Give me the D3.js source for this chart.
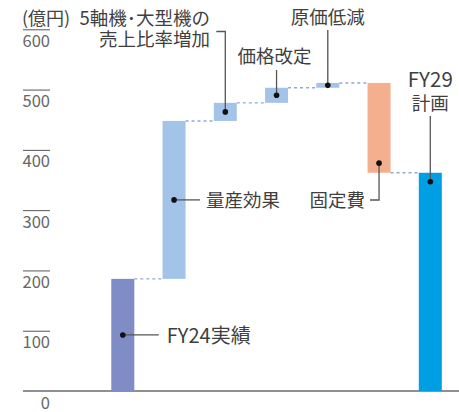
<!DOCTYPE html>
<html>
<head>
<meta charset="utf-8">
<script src="https://cdn.jsdelivr.net/npm/d3@7"></script>
<style>
  html, body { margin: 0; padding: 0; background: #fff; }
  svg { display: block; }
  text { font-family: "Noto Sans CJK JP", "Noto Sans", sans-serif; }
</style>
</head>
<body>
<svg id="chart" width="459" height="412"></svg>
<script>
// Operating profit bridge, FY24 actual to FY29 plan (億円)
const categories = ["FY24実績", "量産効果", "5軸機･大型機の売上比率増加", "価格改定", "原価低減", "固定費", "FY29計画"];
const values     = [186, 262, 30, 25, 8, -149, 362];
const kinds      = ["total", "delta", "delta", "delta", "delta", "delta", "total"];
const yTicks     = [0, 100, 200, 300, 400, 500, 600];
const unitLabel  = "(億円)";

// Build floating-bar extents from the running total
let running = 0;
const bars = categories.map((c, i) => {
  let lo, hi;
  if (kinds[i] === "total") {
    lo = 0; hi = values[i]; running = values[i];
  } else {
    const prev = running;
    running += values[i];
    lo = Math.min(prev, running); hi = Math.max(prev, running);
  }
  return { cat: c, i, lo, hi, end: running, kind: kinds[i], v: values[i] };
});

const colorOf = d => {
  if (d.kind === "total") return d.i === 0 ? "#7f8cc6" : "#009fe3";
  return d.v < 0 ? "#f4b08e" : "#a3c3e9";
};

const svg = d3.select("#chart");

const x = d3.scaleBand()
  .domain(categories)
  .range([111.3, 441.8])
  .paddingInner(0.551)
  .paddingOuter(0);

const y = d3.scaleLinear().domain([0, 600]).range([391, 29.3]);

// Y axis: short overlines with the value underneath
const axisX = 50;
const yAxis = d3.axisLeft(y).tickValues(yTicks).tickSize(27).tickPadding(0);
const gAxis = svg.append("g").attr("transform", `translate(${axisX},0)`).call(yAxis);
gAxis.select(".domain").remove();
gAxis.selectAll(".tick line").attr("stroke", "#555").attr("stroke-width", 1)
  .filter(d => d === 0).remove();
gAxis.selectAll(".tick text")
  .attr("x", 0).attr("dy", 17).attr("y", 0)
  .attr("text-anchor", "end")
  .attr("fill", "#666")
  .style("font-size", "16.5px")
  .style("font-family", "'Noto Sans CJK JP', sans-serif");

// Baseline
svg.append("line")
  .attr("x1", 23).attr("x2", 459)
  .attr("y1", y(0)).attr("y2", y(0))
  .attr("stroke", "#222").attr("stroke-width", 1.2);

// Dashed connectors between consecutive bars
const links = bars.slice(0, -1).map((d, k) => ({ from: d, to: bars[k + 1], level: d.end }));
svg.append("g").selectAll("line").data(links).join("line")
  .attr("x1", d => x(d.from.cat) + x.bandwidth())
  .attr("x2", d => x(d.to.cat))
  .attr("y1", d => y(d.level)).attr("y2", d => y(d.level))
  .attr("stroke", "#8ea9dc").attr("stroke-width", 1.4)
  .attr("stroke-dasharray", "3,3");

// Bars
svg.append("g").selectAll("rect").data(bars).join("rect")
  .attr("x", d => x(d.cat))
  .attr("width", x.bandwidth())
  .attr("y", d => y(d.hi))
  .attr("height", d => y(d.lo) - y(d.hi))
  .attr("fill", colorOf);

// Unit label
svg.append("text")
  .attr("x", 22).attr("y", 25)
  .attr("fill", "#444")
  .style("font-size", "18px")
  .text(unitLabel);

// Annotations with leader lines
const cx = d => x(d.cat) + x.bandwidth() / 2;
const mid = d => (y(d.lo) + y(d.hi)) / 2;
const lead = svg.append("g");
const labels = svg.append("g").attr("fill", "#3f3f3f").style("font-size", "18.5px");

function dot(px, py) {
  lead.append("circle").attr("cx", px).attr("cy", py).attr("r", 2.8).attr("fill", "#111");
}
function path(pts) {
  lead.append("path").attr("d", d3.line()(pts))
    .attr("fill", "none").attr("stroke", "#555").attr("stroke-width", 1.3);
}

// FY24実績
{
  const d = bars[0], px = cx(d), py = mid(d);
  path([[px, py], [px + 36, py]]);
  dot(px, py);
  labels.append("text").attr("x", px + 44).attr("y", py + 8)
    .style("font-size", "20px").text(d.cat);
}
// 量産効果
{
  const d = bars[1], px = cx(d), py = mid(d);
  path([[px, py], [px + 26, py]]);
  dot(px, py);
  labels.append("text").attr("x", px + 32).attr("y", py + 7).text(d.cat);
}
// 5軸機･大型機の売上比率増加 (two lines, bracket leader)
{
  const d = bars[2], px = cx(d), py = mid(d);
  path([[px, py], [px, 31.5], [px - 9, 31.5]]);
  dot(px, py);
  const t = labels.append("text").attr("text-anchor", "end");
  t.append("tspan").attr("x", 210).attr("y", 25).text("5軸機･大型機の");
  t.append("tspan").attr("x", 210).attr("y", 46).text("売上比率増加");
}
// 価格改定
{
  const d = bars[3], px = cx(d), py = mid(d);
  path([[px, py], [px, 70]]);
  dot(px, py);
  labels.append("text").attr("x", px - 2).attr("y", 63).attr("text-anchor", "middle").text(d.cat);
}
// 原価低減
{
  const d = bars[4], px = cx(d), py = mid(d);
  path([[px, py], [px, 30]]);
  dot(px, py);
  labels.append("text").attr("x", px).attr("y", 24).attr("text-anchor", "middle").text(d.cat);
}
// 固定費 (dot near the bottom of the bar, elbow leader to the left)
{
  const d = bars[5], px = cx(d), py = y(378);
  path([[px, py], [px, 200], [px - 9, 200]]);
  dot(px, py);
  labels.append("text").attr("x", px - 14).attr("y", 207).attr("text-anchor", "end").text(d.cat);
}
// FY29計画
{
  const d = bars[6], px = cx(d), py = y(347);
  path([[px, py], [px, 116]]);
  dot(px, py);
  labels.append("text").attr("x", px).attr("y", 87).attr("text-anchor", "middle")
    .style("font-size", "20.5px").text("FY29");
  labels.append("text").attr("x", px).attr("y", 110).attr("text-anchor", "middle")
    .text("計画");
}
</script>
</body>
</html>
